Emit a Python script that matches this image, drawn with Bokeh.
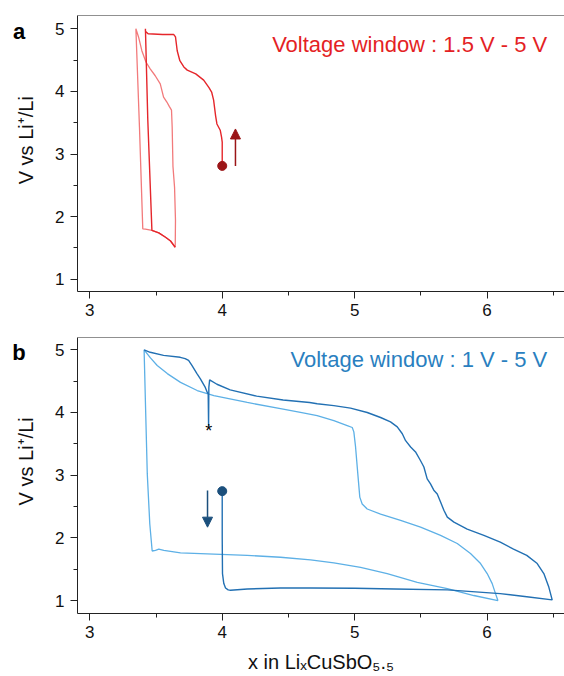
import math
from bokeh.plotting import figure
from bokeh.models import Range1d, FixedTicker, Label, Arrow, NormalHead, Span
from bokeh.layouts import column, row
from bokeh.core.properties import value
from bokeh.embed import file_html
from bokeh.resources import INLINE

FONT = "Liberation Sans"

# ---------------- data ----------------
# panel a : 1.5 V - 5 V window
a_cyc1_x = [4.0, 4.0, 3.995, 3.985, 3.96, 3.95, 3.935, 3.92, 3.90, 3.86, 3.80, 3.736, 3.71, 3.68,
            3.66, 3.647, 3.633, 3.55, 3.44, 3.42, 3.42,
            3.438, 3.469, 3.521, 3.572, 3.61, 3.645]
a_cyc1_v = [2.81, 3.19, 3.27, 3.38, 3.48, 3.61, 3.86, 3.99, 4.06, 4.18, 4.28, 4.34, 4.39, 4.49,
            4.65, 4.87, 4.91, 4.91, 4.92, 4.96, 5.0,
            3.54, 1.78, 1.74, 1.67, 1.61, 1.51]
a_cyc2_x = [3.645, 3.647, 3.64, 3.628, 3.622, 3.617, 3.60, 3.582, 3.557, 3.532, 3.494, 3.456, 3.424,
            3.393, 3.368, 3.348,
            3.375, 3.40, 3.42, 3.469, 3.521, 3.572, 3.61, 3.645]
a_cyc2_v = [1.51, 1.94, 2.47, 2.8, 3.43, 3.70, 3.76, 3.83, 3.91, 4.12, 4.25, 4.36, 4.47,
            4.65, 4.87, 5.0,
            3.43, 1.805, 1.80, 1.78, 1.74, 1.67, 1.61, 1.51]
a_start_x = [4.0]
a_start_v = [2.81]
a_arrow_x = [4.10, 4.10]
a_arrow_v = [2.81, 3.40]

# panel b : 1 V - 5 V window
b_cyc1_x = [4.0, 4.0, 4.002, 4.012, 4.025, 4.045, 4.063, 4.19, 4.44, 4.667, 5.0, 5.3, 5.70, 6.10, 6.30,
            6.492,
            6.467, 6.429, 6.379, 6.30, 6.20, 6.10, 5.976, 5.85, 5.75, 5.70, 5.674, 5.649, 5.624,
            5.598, 5.573, 5.548, 5.523, 5.498, 5.46, 5.423, 5.385, 5.36, 5.322, 5.271, 5.196,
            5.095, 4.969, 4.843, 4.717, 4.66, 4.46, 4.26, 4.06, 3.96, 3.905, 3.899, 3.897,
            3.894, 3.889, 3.872, 3.834, 3.809, 3.771, 3.746, 3.72, 3.683, 3.557, 3.456, 3.41]
b_cyc1_v = [2.745, 2.0, 1.43, 1.27, 1.20, 1.17, 1.165, 1.185, 1.20, 1.20, 1.195, 1.185, 1.17, 1.11, 1.06,
            1.01,
            1.21, 1.43, 1.59, 1.72, 1.82, 1.93, 2.04, 2.14, 2.25, 2.33, 2.44, 2.57, 2.70,
            2.76, 2.86, 2.94, 3.13, 3.23, 3.37, 3.45, 3.55, 3.66, 3.77, 3.85, 3.92,
            4.0, 4.07, 4.11, 4.14, 4.16, 4.20, 4.26, 4.36, 4.45, 4.52, 4.40, 3.79,
            4.30, 4.31, 4.40, 4.54, 4.62, 4.75, 4.83, 4.86, 4.88, 4.91, 4.96, 5.0]
b_cyc2_x = [3.41, 3.421, 3.434, 3.453, 3.471, 3.496, 3.521, 3.559, 3.685, 3.937, 4.189, 4.44, 4.667,
            4.843, 5.045, 5.246, 5.473, 5.70, 5.90, 6.082,
            6.064, 6.039, 6.001, 5.951, 5.875, 5.775, 5.649, 5.498, 5.347, 5.196, 5.095, 5.057,
            5.039, 5.024, 5.007, 4.994, 4.982, 4.944, 4.843, 4.717, 4.591, 4.44, 4.189, 3.937,
            3.811, 3.685, 3.585, 3.509, 3.458, 3.41]
b_cyc2_v = [5.0, 4.08, 3.02, 2.22, 1.79, 1.80, 1.82, 1.80, 1.76, 1.74, 1.72, 1.69, 1.65,
            1.60, 1.53, 1.43, 1.29, 1.19, 1.08, 1.0,
            1.11, 1.27, 1.43, 1.59, 1.75, 1.91, 2.04, 2.17, 2.28, 2.38, 2.46, 2.54,
            2.65, 3.02, 3.45, 3.69, 3.76, 3.79, 3.87, 3.95, 4.0, 4.06, 4.16, 4.27,
            4.35, 4.48, 4.62, 4.75, 4.87, 5.0]
b_start_x = [4.0]
b_start_v = [2.745]
b_arrow_x = [3.889, 3.889]
b_arrow_v = [2.756, 2.17]
b_star_x = [3.898]
b_star_v = [3.70]

x_ticks = [3, 4, 5, 6]
x_minor = [3.5, 4.5, 5.5, 6.5]
y_ticks = [1, 2, 3, 4, 5]
y_minor = [1.5, 2.5, 3.5, 4.5]

title_a = "Voltage window : 1.5 V - 5 V"
title_b = "Voltage window : 1 V - 5 V"
ylabel = "V vs Li\u207a/Li"
xlabel = "x in Li\u2093CuSbO\u2085.\u2085"

RED1, RED2, RED_D = "#e5262b", "#f27a7b", "#9b1517"
BLU1, BLU2, BLU_D = "#2270b3", "#5db0e6", "#1b4f7c"
XR = (2.907, 6.585)


def make_fig(height, top, bottom, yr):
    p = figure(width=516, height=height, output_backend="svg", toolbar_location=None, title=None,
               x_range=Range1d(*XR), y_range=Range1d(*yr),
               min_border_left=29, min_border_right=0, min_border_top=top,
               min_border_bottom=bottom)
    p.xgrid.visible = False
    p.ygrid.visible = False
    p.outline_line_color = None
    p.background_fill_color = "white"
    p.border_fill_color = "white"
    for ax, tk, mn, so in ((p.xaxis, x_ticks, x_minor, 5), (p.yaxis, y_ticks, y_minor, 6)):
        ax.ticker = FixedTicker(ticks=tk, minor_ticks=mn)
        ax.axis_line_color = "#222222"
        ax.major_tick_line_color = "#222222"
        ax.minor_tick_line_color = "#222222"
        ax.major_tick_out = 7
        ax.major_tick_in = 0
        ax.minor_tick_out = 4
        ax.minor_tick_in = 0
        ax.major_label_text_font = FONT
        ax.major_label_text_font_size = "17px"
        ax.major_label_text_color = "#111111"
        ax.major_label_standoff = so
    p.add_layout(Span(location=yr[1], dimension="width", line_color="#222222", line_width=1))
    return p


def side_fig(main, height, top, bottom, panel, ylab_y):
    s = figure(width=48, height=height, output_backend="svg", toolbar_location=None, title=None,
               x_axis_type=None, y_axis_type=None, x_range=Range1d(0, 48), y_range=main.y_range,
               min_border_left=0, min_border_right=0, min_border_top=top, min_border_bottom=bottom)
    s.xgrid.visible = False
    s.ygrid.visible = False
    s.outline_line_color = None
    s.text(x=[18.5], y=[4.955], text=[panel], text_align="center", text_baseline="alphabetic",
           text_font=value(FONT), text_font_size="22px", text_font_style="bold", text_color="#000000")
    s.text(x=[25], y=[ylab_y], text=[ylabel], angle=math.pi / 2, text_align="center",
           text_baseline="middle", text_font=value(FONT), text_font_size="20px", text_color="#111111")
    return s


def add_title(p, title, tcolor, ty):
    p.add_layout(Label(x=6.455, y=ty, text=title, text_align="right", text_baseline="alphabetic",
                       text_font=FONT, text_font_size="22px", text_color=tcolor))


# ---- panel a ----
pa = make_fig(325, 15, 34, (0.8035, 5.2125))
pa.line(a_cyc2_x, a_cyc2_v, line_color=RED2, line_width=1.3)
pa.line(a_cyc1_x, a_cyc1_v, line_color=RED1, line_width=1.4)
pa.scatter(a_start_x, a_start_v, size=9, color=RED_D)
pa.add_layout(Arrow(end=NormalHead(size=10, fill_color=RED_D, line_color=RED_D),
                    x_start=a_arrow_x[0], y_start=a_arrow_v[0], x_end=a_arrow_x[1], y_end=a_arrow_v[1],
                    line_color=RED_D, line_width=1.5))
add_title(pa, title_a, "#e41f25", 4.754)
sa = side_fig(pa, 325, 15, 34, "a", 3.22)

# ---- panel b ----
pb = make_fig(351, 12, 63, (0.793, 5.196))
pb.line(b_cyc2_x, b_cyc2_v, line_color=BLU2, line_width=1.3)
pb.line(b_cyc1_x, b_cyc1_v, line_color=BLU1, line_width=1.4)
pb.scatter(b_start_x, b_start_v, size=9, color=BLU_D)
pb.add_layout(Arrow(end=NormalHead(size=10, fill_color=BLU_D, line_color=BLU_D),
                    x_start=b_arrow_x[0], y_start=b_arrow_v[0], x_end=b_arrow_x[1], y_end=b_arrow_v[1],
                    line_color=BLU_D, line_width=1.5))
pb.add_layout(Label(x=b_star_x[0], y=b_star_v[0], text="*", text_align="center", text_baseline="middle",
                    text_font=FONT, text_font_size="18px", text_color="#000000"))
add_title(pb, title_b, "#2a7fc0", 4.850)
pb.xaxis.axis_label = xlabel
pb.xaxis.axis_label_text_font = FONT
pb.xaxis.axis_label_text_font_size = "20px"
pb.xaxis.axis_label_text_font_style = "normal"
pb.xaxis.axis_label_text_color = "#111111"
pb.xaxis.axis_label_standoff = 10
sb = side_fig(pb, 351, 12, 63, "b", 3.22)

layout = column(row(sa, pa, spacing=0), row(sb, pb, spacing=0), spacing=0)
open("out.html", "w").write(file_html(layout, INLINE))
